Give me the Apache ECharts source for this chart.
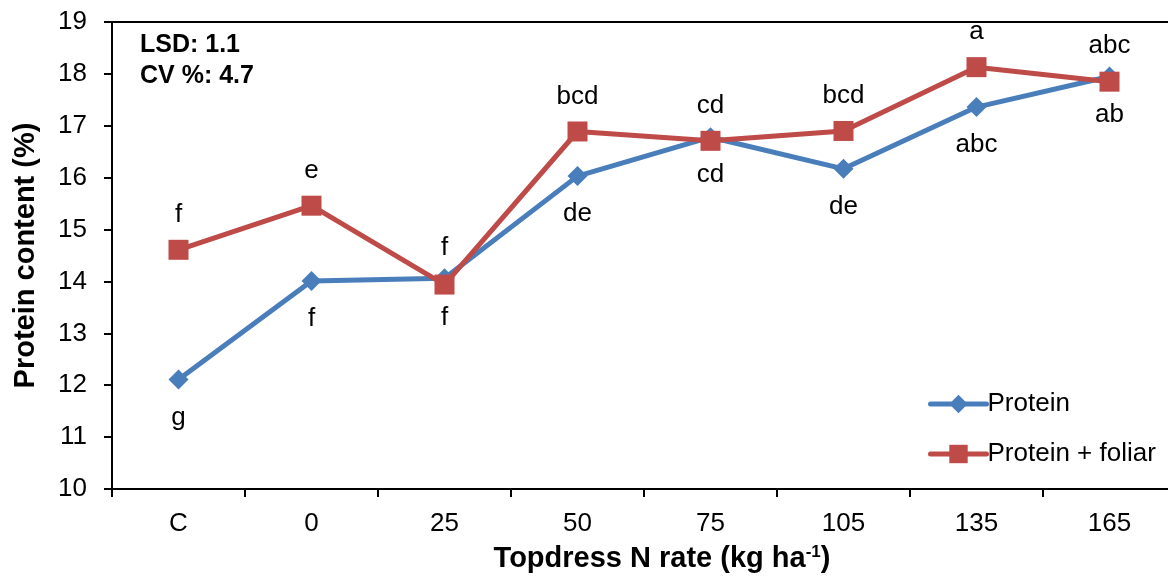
<!DOCTYPE html>
<html>
<head>
<meta charset="utf-8">
<script src="https://cdn.jsdelivr.net/npm/echarts@6/dist/echarts.min.js"></script>
<style>
html,body{margin:0;padding:0;background:#fff;}
#chart{width:1168px;height:578px;}
</style>
</head>
<body>
<div id="chart"></div>
<script>
// ---- data ----
var categories = ['C', '0', '25', '50', '75', '105', '135', '165'];
var proteinValues = [12.11, 14.01, 14.06, 16.03, 16.78, 16.17, 17.36, 17.95];
var foliarValues  = [14.61, 15.46, 13.94, 16.89, 16.71, 16.90, 18.13, 17.85];
var proteinLetters = ['g', 'f', 'f', 'de', 'cd', 'de', 'abc', 'abc'];
var foliarLetters  = ['f', 'e', 'f', 'bcd', 'cd', 'bcd', 'a', 'ab'];
// categories where the foliar letter sits below its point (protein letter above)
var foliarBelow = ['25', '165'];
var yTicks = [10, 11, 12, 13, 14, 15, 16, 17, 18, 19];

var FONT = 'Liberation Sans, Arial, Helvetica, sans-serif';
var BLUE = '#4A7EBB', RED = '#BE4B48';

function buildData(values, letters, isFoliar) {
  return values.map(function (v, i) {
    var below = foliarBelow.indexOf(categories[i]) >= 0;
    var top = isFoliar ? !below : below;
    var dist = isFoliar ? (top ? 12 : 10) : (top ? 8 : 15);
    return {
      value: v,
      label: { show: true, formatter: letters[i], position: top ? 'top' : 'bottom', distance: dist }
    };
  });
}

var chart = echarts.init(document.getElementById('chart'));
chart.setOption({
  animation: false,
  backgroundColor: '#fff',
  textStyle: { fontFamily: FONT },
  grid: { left: 112, right: -8, top: 22, bottom: 89, outerBoundsMode: 'none', containLabel: false,
          show: true, borderColor: '#000', borderWidth: 2 },
  legend: {
    orient: 'vertical', left: 923, top: 386, itemWidth: 56, itemHeight: 23, itemGap: 24,
    lineStyle: { width: 5, cap: 'round' },
    textStyle: { fontFamily: FONT, fontSize: 26, color: '#000', padding: [0, 0, 0, -4] },
    data: ['Protein', 'Protein + foliar']
  },
  xAxis: {
    type: 'category', data: categories, boundaryGap: true,
    axisLine: { lineStyle: { color: '#000', width: 2 } },
    axisTick: { show: true, length: 8, lineStyle: { color: '#000', width: 2 } },
    axisLabel: { fontFamily: FONT, fontSize: 26, color: '#000', margin: 22 },
    name: '{a|Topdress N rate (kg ha}{b|-1}{a|)}', nameLocation: 'middle', nameGap: 55,
    nameTextStyle: {
      padding: [0, 0, 0, 36],
      rich: {
        a: { fontFamily: FONT, fontSize: 29, fontWeight: 'bold', color: '#000' },
        b: { fontFamily: FONT, fontSize: 17, fontWeight: 'bold', color: '#000', verticalAlign: 'top' }
      }
    }
  },
  yAxis: {
    type: 'value', min: yTicks[0], max: yTicks[yTicks.length - 1], interval: 1,
    splitLine: { show: false },
    axisLine: { show: true, lineStyle: { color: '#000', width: 2 } },
    axisTick: { show: true, length: 8, lineStyle: { color: '#000', width: 2 } },
    axisLabel: { fontFamily: FONT, fontSize: 26, color: '#000', margin: 25 },
    name: 'Protein content (%)', nameLocation: 'middle', nameGap: 72,
    nameTextStyle: { fontFamily: FONT, fontSize: 29, fontWeight: 'bold', color: '#000' }
  },
  graphic: [
    { type: 'text', left: 140, top: 33, style: { text: 'LSD: 1.1', font: 'bold 25px ' + FONT, fill: '#000' } },
    { type: 'text', left: 140, top: 64, style: { text: 'CV %: 4.7', font: 'bold 25px ' + FONT, fill: '#000' } }
  ],
  series: [
    {
      name: 'Protein', type: 'line', data: buildData(proteinValues, proteinLetters, false),
      symbol: 'diamond', symbolSize: 20,
      lineStyle: { color: BLUE, width: 5 }, itemStyle: { color: BLUE },
      label: { color: '#000', fontFamily: FONT, fontSize: 26 }, z: 2
    },
    {
      name: 'Protein + foliar', type: 'line', data: buildData(foliarValues, foliarLetters, true),
      symbol: 'rect', symbolSize: 20,
      lineStyle: { color: RED, width: 5 }, itemStyle: { color: RED },
      label: { color: '#000', fontFamily: FONT, fontSize: 26 }, z: 3
    }
  ]
});
</script>
</body>
</html>
